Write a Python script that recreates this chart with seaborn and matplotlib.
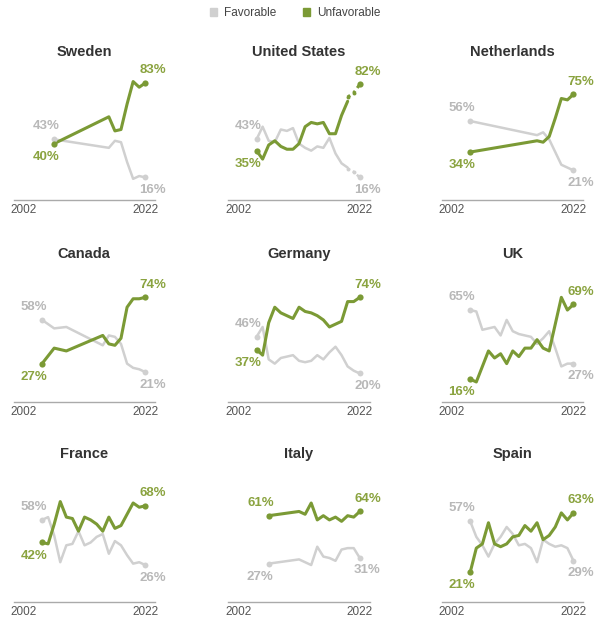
import matplotlib
matplotlib.use('Agg')
import pandas as pd
import matplotlib.pyplot as plt
import seaborn as sns
from matplotlib.patches import Patch

# Views of China, % favorable / unfavorable, by survey year

sweden_years = [2007, 2016, 2017, 2018, 2019, 2020, 2021, 2022]
sweden_fav = [43, 37, 42, 41, 27, 15, 17, 16]
sweden_unfav = [40, 59, 49, 50, 68, 84, 80, 83]

# US: phone surveys, then online panel (drawn dotted)
us_years = [2005, 2006, 2007, 2008, 2009, 2010, 2011, 2012, 2013, 2014,
            2015, 2016, 2017, 2018, 2019, 2020]
us_fav = [43, 52, 42, 41, 50, 49, 51, 40, 37, 35, 38, 37, 44, 33, 26, 23]
us_unfav = [35, 29, 39, 42, 38, 36, 36, 40, 52, 55, 54, 55, 47, 47, 60, 70]
us_online_years = [2020, 2021, 2022]
us_online_fav = [22, 20, 16]
us_online_unfav = [73, 76, 82]

nl_years = [2005, 2016, 2017, 2018, 2019, 2020, 2021, 2022]
nl_fav = [56, 46, 48, 43, 34, 25, 23, 21]
nl_unfav = [34, 42, 41, 45, 58, 72, 71, 75]

ca_years = [2005, 2007, 2009, 2015, 2016, 2017, 2018, 2019, 2020, 2021, 2022]
ca_fav = [58, 52, 53, 40, 47, 46, 41, 27, 24, 23, 21]
ca_unfav = [27, 38, 36, 47, 41, 40, 45, 67, 73, 73, 74]

all_years = [2005, 2006, 2007, 2008, 2009, 2010, 2011, 2012, 2013, 2014,
             2015, 2016, 2017, 2018, 2019, 2020, 2021, 2022]

de_fav = [46, 53, 30, 27, 31, 32, 33, 29, 28, 29, 33, 30, 35, 39, 33, 25, 22, 20]
de_unfav = [37, 33, 56, 67, 63, 61, 59, 67, 64, 63, 61, 58, 53, 55, 57, 71, 71, 74]

uk_fav = [65, 64, 51, 52, 53, 47, 58, 50, 48, 47, 46, 41, 45, 50, 38, 25, 27, 27]
uk_unfav = [16, 14, 25, 36, 31, 34, 27, 36, 32, 38, 38, 44, 38, 36, 55, 74, 65, 69]

fr_fav = [58, 60, 47, 28, 40, 41, 50, 40, 42, 46, 48, 34, 43, 40, 33, 27, 28, 26]
fr_unfav = [42, 41, 55, 71, 60, 59, 50, 60, 58, 55, 50, 60, 52, 54, 62, 70, 67, 68]

it_years = [2007, 2012, 2013, 2014, 2015, 2016, 2017, 2018, 2019, 2020, 2021, 2022]
it_fav = [27, 30, 28, 26, 39, 32, 31, 29, 37, 38, 38, 31]
it_unfav = [61, 64, 62, 70, 58, 61, 58, 60, 57, 61, 60, 64]

es_fav = [57, 46, 40, 32, 41, 46, 53, 48, 40, 41, 38, 28, 44, 41, 39, 40, 38, 29]
es_unfav = [21, 38, 41, 56, 41, 39, 41, 46, 47, 54, 50, 56, 44, 47, 53, 63, 58, 63]

panels = [
    ('Sweden', sweden_years, sweden_fav, sweden_unfav),
    ('United States', us_years, us_fav, us_unfav),
    ('Netherlands', nl_years, nl_fav, nl_unfav),
    ('Canada', ca_years, ca_fav, ca_unfav),
    ('Germany', all_years, de_fav, de_unfav),
    ('UK', all_years, uk_fav, uk_unfav),
    ('France', all_years, fr_fav, fr_unfav),
    ('Italy', it_years, it_fav, it_unfav),
    ('Spain', all_years, es_fav, es_unfav),
]

GREEN = '#7b9a35'
GREEN_TXT = '#8aa33f'
GREY = '#d0d0d0'
GREY_TXT = '#b8b8b8'

sns.set_style('white')
plt.rcParams['font.family'] = ['Liberation Sans', 'DejaVu Sans']

fig = plt.figure(figsize=(5.95, 6.19), dpi=100)

W, H = 595, 619
col_left = [13.5, 228, 441.7]
row_zero = [200, 401.7, 601.7]
ax_w, ax_h = 141.5, 141


def label(ax, x, v, color, dx, dy):
    ax.annotate(f'{v}%', xy=(x, v), xytext=(dx, dy), textcoords='offset points',
                ha='center', va='center', fontsize=9.5, fontweight='bold', color=color)


for i, (title, years, fav, unfav) in enumerate(panels):
    r, c = divmod(i, 3)
    ax = fig.add_axes([col_left[c] / W, (H - row_zero[r]) / H, ax_w / W, ax_h / H])

    sns.lineplot(x=years, y=fav, color=GREY, linewidth=1.8, ax=ax)
    sns.lineplot(x=years, y=unfav, color=GREEN, linewidth=2.2, ax=ax)

    end_years = years
    end_fav, end_unfav = fav, unfav
    if title == 'United States':
        sns.lineplot(x=us_online_years, y=us_online_fav, color=GREY, linewidth=1.8,
                     linestyle=(0, (1, 1.2)), ax=ax)
        sns.lineplot(x=us_online_years, y=us_online_unfav, color=GREEN, linewidth=2.2,
                     linestyle=(0, (1, 1.2)), ax=ax)
        sns.scatterplot(x=us_online_years[:-1], y=us_online_fav[:-1], color=GREY, s=8,
                        linewidth=0, ax=ax)
        sns.scatterplot(x=us_online_years[:-1], y=us_online_unfav[:-1], color=GREEN, s=8,
                        linewidth=0, ax=ax)
        end_years = us_online_years
        end_fav, end_unfav = us_online_fav, us_online_unfav

    # end point dots
    sns.scatterplot(x=[years[0], end_years[-1]], y=[fav[0], end_fav[-1]],
                    color=GREY, s=18, linewidth=0, ax=ax, zorder=3)
    sns.scatterplot(x=[years[0], end_years[-1]], y=[unfav[0], end_unfav[-1]],
                    color=GREEN, s=20, linewidth=0, ax=ax, zorder=4)

    # start / end value labels
    s_up = 1 if fav[0] >= unfav[0] else -1
    label(ax, years[0], fav[0], GREY_TXT, -6, 9.4 * s_up)
    label(ax, years[0], unfav[0], GREEN_TXT, -6, -9.4 * s_up)
    e_up = 1 if end_fav[-1] >= end_unfav[-1] else -1
    label(ax, end_years[-1], end_fav[-1], GREY_TXT, 5.5, 9 * e_up)
    label(ax, end_years[-1], end_unfav[-1], GREEN_TXT, 5.5, -9 * e_up)

    ax.set_xlim(2000.3, 2023.6)
    ax.set_ylim(0, 100)
    ax.set_xticks([2002, 2022])
    ax.set_xticklabels(['2002', '2022'], fontsize=8.5, color='#555555')
    ax.set_yticks([])
    ax.tick_params(axis='x', length=0, pad=3)
    ax.set_xlabel('')
    ax.set_ylabel('')
    for side in ['left', 'top', 'right']:
        ax.spines[side].set_visible(False)
    ax.spines['bottom'].set_color('#aaaaaa')
    ax.spines['bottom'].set_linewidth(1.0)
    ax.patch.set_alpha(0)
    ax.set_title(title, fontsize=10.5, fontweight='bold', color='#333333', pad=2)

handles = [Patch(color=GREY), Patch(color=GREEN)]
fig.legend(handles, ['Favorable', 'Unfavorable'], loc='center',
           bbox_to_anchor=(0.496, 1 - 13 / H), ncol=2, frameon=False,
           fontsize=8.5, labelcolor='#444444', handlelength=0.65, handleheight=0.65,
           handletextpad=0.6, columnspacing=2.2)

fig.savefig('out.png', dpi=100)
